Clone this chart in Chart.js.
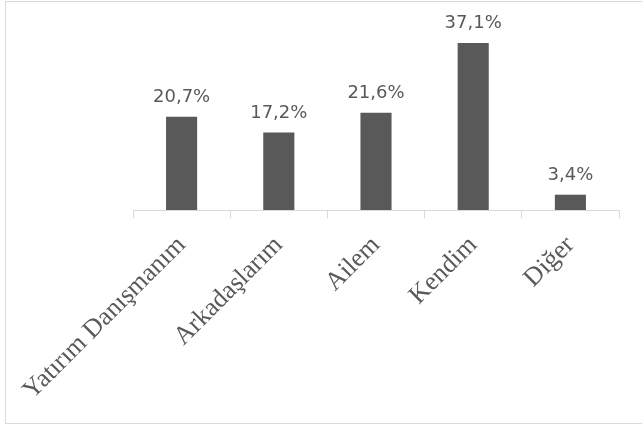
<!DOCTYPE html>
<html>
<head>
<meta charset="utf-8">
<script src="https://cdn.jsdelivr.net/npm/chart.js@4"></script>
<style>
  html, body { margin: 0; padding: 0; background: #fff; overflow: hidden; }
  #frame { position: absolute; left: 5px; top: 1px; width: 660px; height: 421px; border: 1px solid #d9d9d9; }
  #wrap { position: absolute; left: 0; top: 0; width: 642px; height: 426px; }
</style>
</head>
<body>
<div id="frame"></div>
<div id="wrap"><canvas id="bar-graph" width="642" height="426"></canvas></div>
<script>
const categories = ['Yatırım Danışmanım', 'Arkadaşlarım', 'Ailem', 'Kendim', 'Diğer'];
const shares = [20.7, 17.2, 21.6, 37.1, 3.4];
const labelText = ['20,7%', '17,2%', '21,6%', '37,1%', '3,4%'];

const grey = '#595959';

// writes the percentage above each bar
const valueLabels = {
  id: 'valueLabels',
  afterDatasetsDraw(chart) {
    const ctx = chart.ctx;
    const meta = chart.getDatasetMeta(0);
    ctx.save();
    ctx.font = '18px "DejaVu Sans"';
    ctx.fillStyle = grey;
    ctx.textAlign = 'center';
    ctx.textBaseline = 'alphabetic';
    meta.data.forEach((bar, i) => {
      ctx.fillText(labelText[i], bar.x, bar.y - 15);
    });
    ctx.restore();
  }
};

const ctx = document.getElementById('bar-graph');
new Chart(ctx, {
  type: 'bar',
  data: {
    labels: categories,
    datasets: [{
      data: shares,
      backgroundColor: grey,
      borderWidth: 0,
      barPercentage: 0.32,
      categoryPercentage: 1
    }]
  },
  options: {
    responsive: false,
    animation: false,
    layout: { padding: { left: 133, right: 23, top: 30, bottom: 0 } },
    plugins: { legend: { display: false }, tooltip: { enabled: false } },
    scales: {
      y: { display: false, min: 0, max: 40 },
      x: {
        afterFit: s => { s.height = 216; },
        border: { display: true, color: '#d9d9d9', width: 1 },
        grid: { drawOnChartArea: false, drawTicks: true, tickLength: 8, color: '#d9d9d9' },
        ticks: {
          minRotation: 45,
          maxRotation: 45,
          padding: 12,
          color: grey,
          font: { family: '"Liberation Serif"', size: 26 }
        }
      }
    }
  },
  plugins: [valueLabels]
});
</script>
</body>
</html>
